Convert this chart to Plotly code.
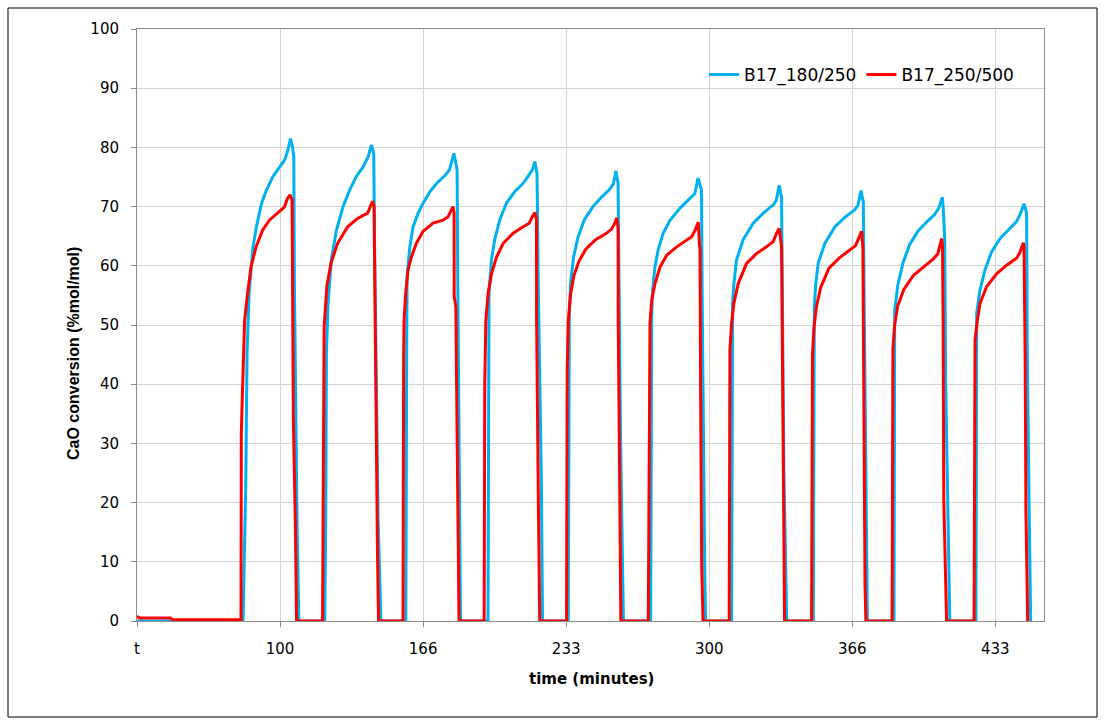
import plotly.graph_objects as go

# ---------------- data ----------------
x_tick_vals = [33.33, 100, 166.67, 233.33, 300, 366.67, 433.33]
x_tick_text = ["t", "100", "166", "233", "300", "366", "433"]
y_tick_vals = [0, 10, 20, 30, 40, 50, 60, 70, 80, 90, 100]

blue_name = "B17_180/250"
red_name = "B17_250/500"

# initial flat segments (minutes, % conversion)
blue_init_t = [33.33]
blue_init_v = [0.0]
red_init_t = [33.33, 34.5, 49.0, 50.0, 81.8]
red_init_v = [0.8, 0.5, 0.5, 0.2, 0.2]

# start time of each carbonation cycle (minutes)
blue_start = [82.75, 120.8, 158.6, 196.9, 234.3, 272.7, 310.4, 348.5, 386.1, 424.3]
red_start = [81.8, 119.8, 157.3, 195.1, 233.5, 271.6, 309.3, 347.7, 385.2, 423.4]

# minutes since cycle start / conversion values, cycle by cycle
blue_off = [
    [0, 1.25, 1.86, 2.8, 3.95, 4.65, 6.25, 8.55, 10.9, 13.95, 17.1, 19.45, 20.95, 22.1, 23.05, 23.65, 23.95, 24.55, 25.15, 26.0],
    [0, 0.47, 0.8, 1.55, 3.1, 5.45, 8.55, 11.65, 14.75, 17.9, 20.2, 21.8, 22.85, 23.3, 24.1, 24.9, 26.2],
    [0, 0.4, 0.6, 1.87, 3.4, 5.75, 8.1, 11.2, 14.3, 18.35, 20.35, 22.4, 23.3, 23.9, 24.2, 24.6, 25.0, 25.5],
    [0, 0.3, 0.47, 1.6, 3.1, 5.45, 8.6, 12.4, 16.3, 18.65, 20.7, 21.8, 22.85, 23.3, 24.1, 24.9, 25.4],
    [0, 0.5, 1.2, 2.5, 4.5, 7.5, 11.5, 15.5, 19.0, 21.0, 22.2, 23.2, 23.6, 24.4, 25.7],
    [0, 0.47, 0.93, 2.0, 3.5, 5.8, 9.0, 13.6, 18.3, 20.6, 22.1, 23.7, 24.0, 24.6, 25.2, 25.6],
    [0, 0.47, 1.1, 2.3, 5.4, 10.1, 14.8, 19.4, 20.8, 22.2, 23.3, 23.8, 24.4, 25.7],
    [0, 0.47, 1.1, 2.3, 5.4, 10.1, 14.8, 19.4, 20.8, 22.2, 23.3, 23.8, 24.4, 25.2],
    [0, 0.33, 1.8, 4.2, 7.3, 11.2, 15.8, 19.0, 20.8, 22.5, 22.9, 23.6, 24.1, 25.2, 26.0],
    [0, 0.33, 1.86, 4.2, 7.3, 11.2, 15.8, 19.0, 20.8, 22.4, 23.6, 23.9, 24.8, 25.5],
]
blue_val = [
    [0, 22.7, 45.2, 55.4, 61.0, 63.2, 66.6, 70.5, 72.8, 75.1, 76.7, 77.9, 79.6, 81.5, 80.1, 78.4, 56.5, 34, 17, 0],
    [0, 17, 45.2, 53.7, 61.0, 66.0, 70.0, 72.8, 75.1, 76.7, 78.4, 80.4, 79.0, 62.1, 39.6, 17, 0],
    [0, 45, 58.2, 63.2, 66.6, 68.9, 70.6, 72.5, 73.9, 75.3, 76.2, 79.0, 77.6, 76.2, 57.6, 40.7, 23.8, 0],
    [0, 40, 55.4, 61.0, 64.4, 67.7, 70.6, 72.5, 73.9, 75.1, 76.2, 77.6, 75.6, 60, 39.6, 22.7, 0],
    [0, 52, 57.5, 61.5, 64.8, 67.8, 70.0, 71.6, 72.8, 73.8, 76.0, 74.0, 55, 30, 0],
    [0, 51.4, 55.9, 59.8, 62.7, 65.5, 67.7, 69.7, 71.4, 72.2, 74.8, 72.8, 55, 25, 8, 0],
    [0, 53.7, 57.0, 61.0, 64.4, 67.2, 68.9, 70.3, 71.0, 73.6, 71.5, 50, 25, 0],
    [0, 53.0, 56.8, 60.5, 63.8, 66.6, 68.2, 69.5, 70.2, 72.7, 70.8, 50, 25, 0],
    [0, 52.5, 56.8, 60.5, 63.6, 65.9, 67.6, 68.7, 69.7, 71.6, 70.0, 64.9, 39.6, 18.2, 0],
    [0, 52, 55.9, 59.3, 62.4, 64.6, 66.3, 67.5, 68.9, 70.5, 68.9, 45.2, 18.2, 0],
]
red_off = [
    [0, 0.14, 0.75, 1.07, 1.68, 3.08, 4.66, 7.0, 10.07, 13.2, 16.9, 20.2, 21.7, 22.85, 23.8, 24.05, 24.4, 25.3, 25.9],
    [0, 0.3, 0.75, 2.0, 3.9, 7.0, 11.7, 16.3, 21.0, 22.5, 23.3, 24.0, 24.3, 25.1, 25.6, 26.1],
    [0, 0.3, 0.5, 1.25, 2.33, 3.9, 6.2, 9.3, 14.0, 18.65, 21.0, 22.5, 23.3, 23.8, 23.85, 24.6, 25.4, 26.1],
    [0, 0.3, 0.8, 1.87, 3.45, 5.8, 8.9, 13.5, 18.2, 21.0, 22.6, 23.7, 24.4, 24.45, 25.2, 25.9],
    [0, 0.3, 0.8, 1.8, 3.4, 5.8, 9.0, 13.5, 18.2, 21.0, 22.6, 23.4, 24.0, 24.1, 24.8, 25.3],
    [0, 0.47, 0.79, 1.58, 3.12, 5.45, 8.58, 13.24, 17.9, 20.2, 21.8, 23.3, 23.8, 24.1, 24.4, 24.9, 25.5],
    [0, 0.33, 1.12, 2.19, 4.2, 8.1, 12.8, 17.4, 20.5, 22.1, 23.3, 24.4, 24.9, 25.5, 25.8],
    [0, 0.4, 1.1, 2.2, 4.2, 8.1, 12.8, 17.4, 20.5, 22.1, 23.3, 23.9, 24.3, 24.9, 25.3],
    [0, 0.4, 1.2, 2.6, 5.5, 10.0, 14.8, 19.0, 21.3, 23.1, 23.5, 23.8, 24.1, 25.4],
    [0, 0.3, 0.47, 1.55, 2.8, 5.9, 10.6, 15.2, 19.9, 21.4, 23.0, 23.3, 23.8, 24.2, 25.0],
]
red_val = [
    [0, 31.8, 39.5, 44, 50.8, 55.4, 59.8, 63.2, 66, 67.7, 68.9, 69.9, 71.4, 72.0, 71.1, 56.4, 34, 17, 0],
    [0, 35, 49.7, 56.5, 60.4, 63.8, 66.6, 68.0, 68.9, 70.2, 70.9, 70.0, 57.6, 28.3, 11.4, 0],
    [0, 45, 50.8, 55.4, 59.3, 61.5, 63.8, 65.8, 67.2, 67.7, 68.3, 69.4, 70.0, 68.9, 54.8, 53.1, 22.7, 0],
    [0, 40, 50.8, 55.4, 58.7, 61.5, 63.8, 65.5, 66.6, 67.2, 68.4, 69.0, 67.7, 50.8, 22.7, 0],
    [0, 42, 50.5, 55.0, 58.3, 60.8, 62.8, 64.4, 65.4, 66.2, 67.3, 68.1, 66.5, 50, 22, 0],
    [0, 38.5, 50.3, 54.2, 57.0, 59.8, 61.8, 63.2, 64.4, 64.9, 66.0, 67.4, 63.8, 62.7, 37.3, 9.2, 0],
    [0, 45.8, 50.3, 53.7, 57.0, 60.4, 62.1, 63.2, 64.1, 65.5, 66.3, 63.2, 34.5, 6.4, 0],
    [0, 45, 49.5, 53.0, 56.3, 59.6, 61.3, 62.5, 63.4, 64.8, 65.8, 63.0, 34, 6, 0],
    [0, 46, 50, 53.2, 56.0, 58.4, 59.9, 61.1, 62.0, 64.6, 63.5, 50.3, 20.4, 0],
    [0, 40, 47.5, 50.8, 53.7, 56.5, 58.7, 60.1, 61.3, 62.3, 63.9, 63.2, 45.2, 18.2, 0],
]


def assemble(init_t, init_v, starts, offs, vals):
    t = list(init_t)
    v = list(init_v)
    for s, o, vv in zip(starts, offs, vals):
        t.extend(s + d for d in o)
        v.extend(vv)
    return t, v


blue_t, blue_v = assemble(blue_init_t, blue_init_v, blue_start, blue_off, blue_val)
red_t, red_v = assemble(red_init_t, red_init_v, red_start, red_off, red_val)

# ---------------- figure ----------------
FONT = "DejaVu Sans"
fig = go.Figure()
fig.add_trace(go.Scatter(x=blue_t, y=blue_v, mode="lines", name=blue_name,
                         line=dict(color="#00B0F0", width=3)))
fig.add_trace(go.Scatter(x=red_t, y=red_v, mode="lines", name=red_name,
                         line=dict(color="#FF0000", width=3)))

W, H = 1105, 725
L, R, T, B = 137, 61, 29, 104
pw, ph = W - L - R, H - T - B


def px_x(px):
    return (px - L) / pw


def px_y(py):
    return (H - B - py) / ph


fig.update_layout(
    width=W, height=H,
    margin=dict(l=L, r=R, t=T, b=B, pad=0),
    paper_bgcolor="white", plot_bgcolor="white",
    font=dict(family=FONT, size=15, color="#000000"),
    showlegend=True,
    legend=dict(orientation="h", x=px_x(704), y=px_y(75), xanchor="left", yanchor="middle",
                bgcolor="rgba(255,255,255,0)", font=dict(family=FONT, size=17, color="#000000"),
                itemwidth=30, tracegroupgap=0),
    xaxis=dict(range=[33.33, 456.0], tickmode="array", tickvals=x_tick_vals, ticktext=x_tick_text,
               showgrid=True, gridcolor="#D4D4D4", gridwidth=1,
               showline=True, linecolor="#8C8C8C", linewidth=1, mirror=True,
               ticks="outside", ticklen=5, tickcolor="#8C8C8C", ticklabelstandoff=9,
               tickfont=dict(family=FONT, size=15, color="#000000"), zeroline=False),
    yaxis=dict(range=[0, 100], tickmode="array", tickvals=y_tick_vals,
               showgrid=True, gridcolor="#D4D4D4", gridwidth=1,
               showline=True, linecolor="#8C8C8C", linewidth=1, mirror=True,
               ticks="outside", ticklen=5, tickcolor="#8C8C8C", ticklabelstandoff=9,
               tickfont=dict(family=FONT, size=15, color="#000000"), zeroline=False),
    annotations=[
        dict(text="<b>time (minutes)</b>", xref="paper", yref="paper", x=px_x(591), y=px_y(679),
             xanchor="center", yanchor="middle", showarrow=False,
             font=dict(family=FONT, size=15, color="#000000")),
        dict(text="<b>CaO conversion (%mol/mol)</b>", xref="paper", yref="paper", x=px_x(73), y=px_y(354),
             xanchor="center", yanchor="middle", showarrow=False, textangle=-90,
             font=dict(family="Liberation Sans", size=16, color="#000000")),
    ],
    shapes=[
        dict(type="rect", xref="paper", yref="paper",
             x0=px_x(8), x1=px_x(1097), y0=px_y(717), y1=px_y(8),
             line=dict(color="#000000", width=1), fillcolor="rgba(0,0,0,0)", layer="below"),
    ],
)

fig.write_html("out.html", config={"displayModeBar": False},
               post_script="document.body.style.margin='0';")
